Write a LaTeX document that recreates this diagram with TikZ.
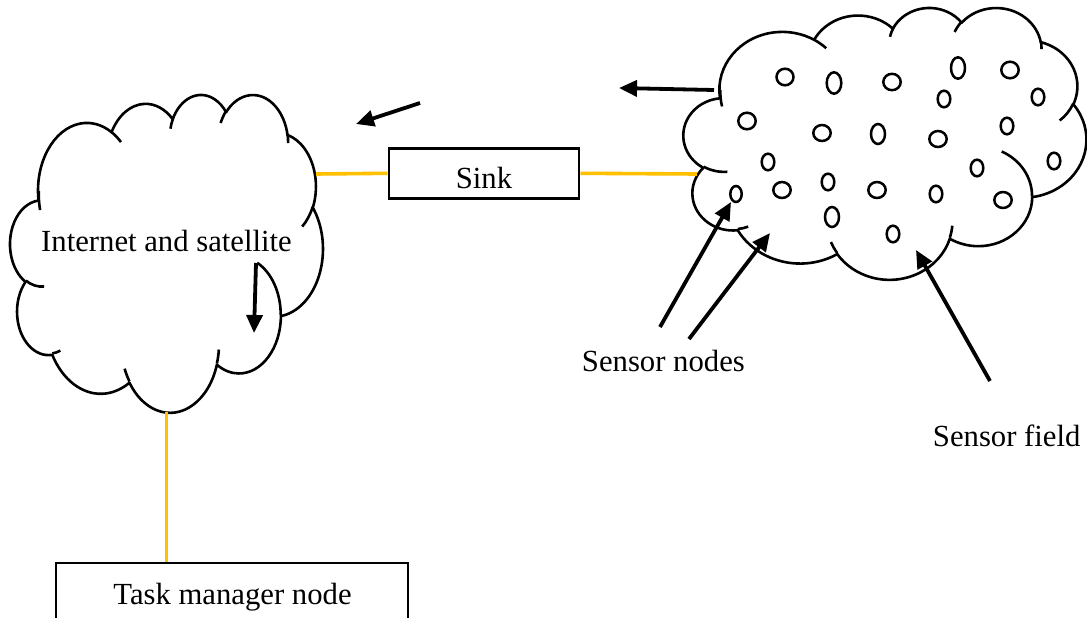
\documentclass[tikz,border=0pt]{standalone}
\usepackage{fontspec}
\setmainfont{Liberation Serif}
\usetikzlibrary{arrows.meta}
\definecolor{linkgold}{HTML}{FFC000}

% one arc of an Office-style cloud: radii, start angle and sweep (true angles)
\newcommand\oarc[4]{arc[start angle={ooang(#1,#2,#3)},
  delta angle={mod(ooang(#1,#2,(#3)+(#4))-ooang(#1,#2,#3)+720,360)},
  x radius=#1, y radius=#2]}

% cloud outline plus its inner arcs, in a 432 x 432 box
\newcommand\drawcloud{%
  \draw[cloudline, fill=white] (39.00,143.70)
    \oarc{67.53}{91.90}{-190.4875}{123.7805}
    \oarc{53.33}{72.67}{-144.1024}{89.9452}
    \oarc{43.65}{59.45}{-145.8079}{99.7230}
    \oarc{48.57}{65.95}{-130.9861}{117.2417}
    \oarc{53.33}{72.73}{-78.7089}{109.0269}
    \oarc{67.75}{92.20}{-46.2673}{130.2690}
    \oarc{57.85}{78.67}{0.6250}{114.0333}
    \oarc{67.52}{92.15}{22.4516}{115.1726}
    \oarc{77.20}{105.43}{66.2426}{75.7110}
    \oarc{43.60}{59.18}{-274.9421}{146.7356}
    \oarc{43.45}{59.45}{-246.8285}{152.5189}
    -- cycle;
  \draw[cloudline]
    (46.93,261.77) \oarc{43.45}{59.45}{86.7420}{26.4295}
    (69.28,348.99) \oarc{43.60}{59.18}{73.6105}{11.4475}
    (164.78,390.90) \oarc{67.52}{92.15}{137.6242}{14.0811}
    (288.27,347.51) \oarc{67.52}{92.15}{6.4533}{15.9984}
    (341.29,229.54) \oarc{57.85}{78.67}{-70.2924}{70.9174}
    (417.98,153.54) \oarc{53.33}{72.73}{30.3180}{27.7515}
    (383.24,54.26) \oarc{48.57}{65.95}{-13.7443}{14.8589}
    (290.78,39.52) \oarc{48.57}{65.95}{-149.1815}{18.1954}
    (221.41,47.20) \oarc{43.65}{59.45}{-163.4943}{17.6864}
    (140.00,51.92) \oarc{67.53}{91.90}{-66.7070}{12.3194}
    (41.27,157.89) \oarc{67.53}{91.90}{162.0380}{21.8862};
}

\begin{document}
\begin{tikzpicture}[x=1pt, y=-1pt,
  declare function={ooang(\pw,\ph,\pt)=atan2((\pw)*sin(\pt),(\ph)*cos(\pt));},
  cloudline/.style={line width=2.6pt, line join=round},
  sensor/.style={line width=2.5pt},
  boxline/.style={draw, line width=2.6pt, inner sep=0pt},
  goldlink/.style={draw=linkgold, line width=3.6pt},
  pointer/.style={line width=3.8pt, -{Triangle[length=18pt, width=16pt]}},
  label/.style={font=\fontsize{30.7}{36}\selectfont, inner sep=0pt, anchor=base},
]
\useasboundingbox (0,0) rectangle (1087,618);
\clip (0,0) rectangle (1087,618);
\fill[white] (0,0) rectangle (1087,618);

% Internet / satellite cloud
\begin{scope}[shift={(10.24pt,-93.94pt)}, x=0.7236pt, y=-0.7355pt]
  \drawcloud
\end{scope}

% sensor field cloud
\begin{scope}[shift={(683.6pt,-7.09pt)}, x=0.9321pt, y=-0.6291pt]
  \drawcloud
\end{scope}

% sensor nodes scattered over the field
\foreach \cx/\cy/\rx/\ry in {
  785/77/8.5/8.3, 834/83/7.3/10.7, 892/82/8.7/8.2, 958/68/7/10.7,
  1010/70/8.7/8.3, 944/99/6.3/8.3, 1038/97/6.3/8.3, 747/121/8.7/8.3,
  822/133/8.7/8, 878/134/7/10, 938/139/8.7/8, 1007/126/6.3/8.3,
  768/162/6.3/8.3, 977/168/6.3/8.3, 1054/161/6.3/8.3, 736/194/5.7/8,
  782/190/8.7/8, 828/182/6.3/8.3, 877/190/8.7/8, 936/194/6.3/8.3,
  1003/200/8.7/8, 832/217/7/10, 893/234/6.3/8.3}
  \draw[sensor] (\cx,\cy) ellipse[x radius=\rx, y radius=\ry];

% boxes
\node[boxline, minimum width=190pt, minimum height=50pt] (sink) at (484,173.3) {};
\node[label] (sinktext) at (484,188) {Sink};
\node[boxline, minimum width=352pt, minimum height=100pt] (task) at (232,613) {};
\node[label] (tasktext) at (232.5,604) {Task manager node};

% texts
\node[label] (nettext) at (166.5,251) {Internet and satellite};
\node[label] (nodestext) at (663.4,371.7) {Sensor nodes};
\node[label] (fieldtext) at (1006.7,446.7) {Sensor field};

% attachment points on the clouds
\coordinate (netR) at (316,174);
\coordinate (netB) at (166.5,412);
\coordinate (fieldL) at (697,174);

% links
\draw[goldlink] (netR) -- (sink.west);
\draw[goldlink] (sink.east) -- (fieldL);
\draw[goldlink] (netB) -- (task.north -| netB);

% arrow end points
\coordinate (a1s) at (714,90);   \coordinate (a1e) at (619,88);
\coordinate (a2s) at (420,103);  \coordinate (a2e) at (356,124);
\coordinate (a3s) at (256,263);  \coordinate (a3e) at (254,333);
\coordinate (a4s) at (660,327);  \coordinate (a4e) at (731,202);
\coordinate (a5s) at (689,339);  \coordinate (a5e) at (770,233);
\coordinate (a6s) at (990,381);  \coordinate (a6e) at (916,250);

\draw[pointer] (a1s) -- (a1e);
\draw[pointer] (a2s) -- (a2e);
\draw[pointer] (a3s) -- (a3e);
\draw[pointer] (a4s) -- (a4e);
\draw[pointer] (a5s) -- (a5e);
\draw[pointer] (a6s) -- (a6e);
\end{tikzpicture}
\end{document}
